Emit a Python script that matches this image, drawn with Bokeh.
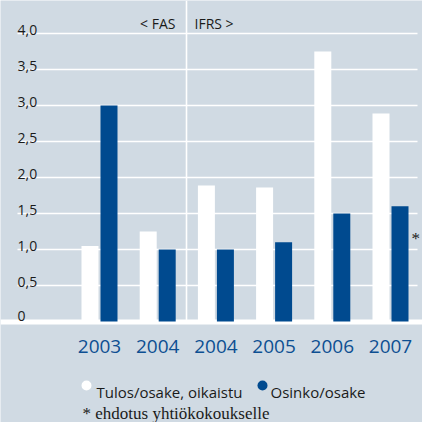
from bokeh.plotting import figure
from bokeh.models import Range1d
from bokeh.embed import file_html
from bokeh.resources import INLINE
from bokeh.core.properties import value
import numpy as np

# ---- data ----
years = ["2003", "2004", "2004", "2005", "2006", "2007"]
eps_adjusted = [1.05, 1.25, 1.89, 1.86, 3.75, 2.89]
dividend = [3.00, 1.00, 1.00, 1.10, 1.50, 1.60]
tick_values = [0, 0.5, 1.0, 1.5, 2.0, 2.5, 3.0, 3.5, 4.0]
tick_labels = ["0", "0,5", "1,0", "1,5", "2,0", "2,5", "3,0", "3,5", "4,0"]
series_names = ["Tulos/osake, oikaistu", "Osinko/osake"]
standard_labels = ["< FAS", "IFRS >"]
proposal_mark = "*"
footnote = "* ehdotus yhtiökokoukselle"

# ---- styling / layout ----
BG = "#d0dae3"
BLUE = "#004a8f"
YEAR_BLUE = "#0d4f92"
TEXT = "#1a1a1a"
SANS = "Open Sans"
SERIF = "Liberation Serif"

W = H = 422
PX_X = 58.2   # pixels per category
PX_Y = 72.0   # pixels per unit
OX, OY = 99, 321  # position of first group centre / zero line


def XP(px):
    return (px - OX) / PX_X


def YP(py):
    return (OY - py) / PX_Y


p = figure(width=W, height=H, output_backend="svg", toolbar_location=None,
           x_range=Range1d(XP(0), XP(W)),
           y_range=Range1d(YP(H), YP(0)),
           min_border=0, min_border_left=0, min_border_right=0,
           min_border_top=0, min_border_bottom=0)
p.xaxis.visible = False
p.yaxis.visible = False
p.xgrid.visible = False
p.ygrid.visible = False
p.outline_line_color = None
p.background_fill_color = BG
p.border_fill_color = BG

idx = np.arange(len(years))
off = 9.5 / PX_X
bw = 17 / PX_X

# gridlines
grid_vals = [v for v in tick_values if v > 0]
p.segment(x0=[XP(17)] * len(grid_vals), x1=[XP(417)] * len(grid_vals),
          y0=grid_vals, y1=grid_vals, line_color="white", line_width=1.6)
# FAS / IFRS separator
p.segment(x0=[XP(186)], x1=[XP(186)], y0=[YP(0)], y1=[0],
          line_color="white", line_width=1.6)
# baseline
p.quad(left=[XP(0)], right=[XP(W)], bottom=[YP(324)], top=[YP(319)],
       fill_color="white", line_color=None)

# bars
p.vbar(x=idx - off, top=eps_adjusted, bottom=0, width=bw,
       fill_color="white", line_color=None)
p.vbar(x=idx + off, top=dividend, bottom=0, width=bw,
       fill_color=BLUE, line_color=None)

# y tick labels
p.text(x=[XP(17)] * len(tick_values),
       y=[v + (6 if v == 0 else 4) / PX_Y for v in tick_values],
       text=tick_labels, text_font=value(SANS), text_font_size="14px",
       text_color=TEXT, text_align="left", text_baseline="alphabetic")

# year labels
p.text(x=idx, y=[YP(346)] * len(years), text=years, text_font=value(SANS),
       text_font_size="19px", text_color=YEAR_BLUE, text_align="center",
       text_baseline="alphabetic")

# FAS / IFRS labels
p.text(x=[XP(175), XP(194)], y=[YP(23), YP(23)], text=standard_labels,
       text_font=value(SANS), text_font_size="14px", text_color=TEXT,
       text_align=["right", "left"], text_baseline="alphabetic")

# proposal asterisk next to last dividend bar
p.text(x=[XP(411)], y=[YP(238)], text=[proposal_mark], text_font=value(SERIF),
       text_font_size="17px", text_color=TEXT, text_align="left",
       text_baseline="alphabetic")

# legend
p.scatter(x=[XP(86), XP(262)], y=[YP(385), YP(385)], size=10,
          marker="circle", fill_color=["white", BLUE], line_color=None)
p.text(x=[XP(96), XP(270)], y=[YP(391), YP(391)], text=series_names,
       text_font=value(SANS), text_font_size="15px", text_color=TEXT,
       text_align="left", text_baseline="alphabetic")

# footnote
p.text(x=[XP(82)], y=[YP(413)], text=[footnote], text_font=value(SERIF),
       text_font_size="17px", text_color=TEXT, text_align="left",
       text_baseline="alphabetic")

open("out.html", "w").write(file_html(p, INLINE))
